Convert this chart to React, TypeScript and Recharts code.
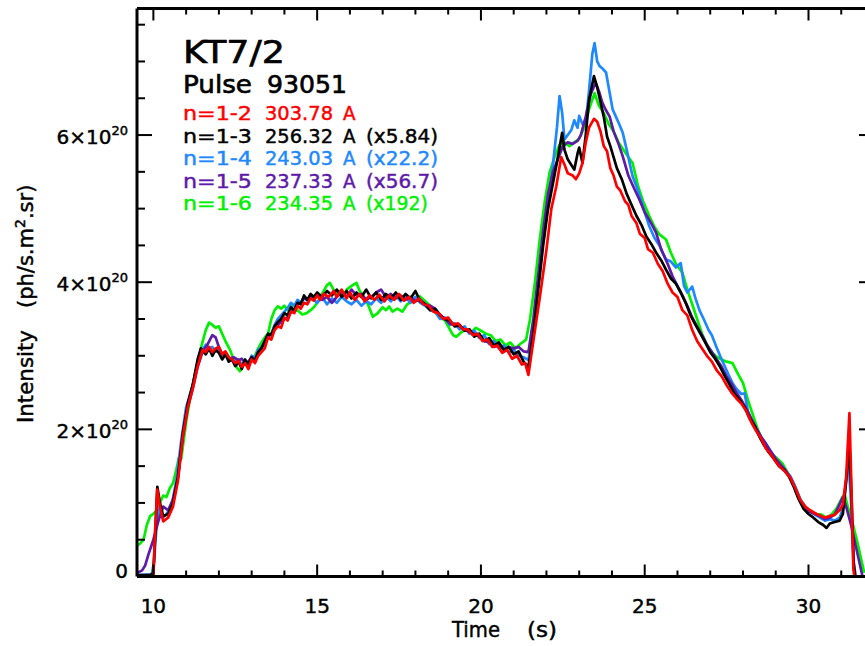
import React from 'react';
import { LineChart, Line, XAxis, YAxis } from 'recharts';

const FONT = '"DejaVu Sans", "Noto Sans", sans-serif';

// Axis setup (intensity in units of 1e20 ph/s.m2.sr, time in s)
const X_DOMAIN: [number, number] = [9.5, 32];
const Y_DOMAIN: [number, number] = [0, 7.72];
const xTicks = [10, 11, 12, 13, 14, 15, 16, 17, 18, 19, 20, 21, 22, 23, 24, 25, 26, 27, 28, 29, 30, 31];
const yTicks = [0, 0.5, 1, 1.5, 2, 2.5, 3, 3.5, 4, 4.5, 5, 5.5, 6, 6.5, 7, 7.5];

// Legend / annotation text
const titleText = 'KT7/2';
const pulseText = ['Pulse', '93051'];
const lineNames = ['n=1-2', 'n=1-3', 'n=1-4', 'n=1-5', 'n=1-6'];
const wavelengths = ['303.78', '256.32', '243.03', '237.33', '234.35'];
const scaleFactors = ['', '(x5.84)', '(x22.2)', '(x56.7)', '(x192)'];
const colors = ['#ff0000', '#000000', '#1e88ff', '#5e1aa8', '#00f000'];

// n=1-2 (red)
const n12: [number, number][] = [
  [9.5, 0], [10.0, 0], [10.05, 0.6], [10.12, 1.18], [10.2, 0.95], [10.3, 0.75], [10.45, 0.8], [10.6, 0.95],
  [10.75, 1.3], [10.9, 1.9], [11.05, 2.3], [11.2, 2.55], [11.35, 2.85], [11.5, 3.08], [11.6, 3.05], [11.7, 3.12],
  [11.8, 3.05], [11.9, 3.1], [12.0, 3.12], [12.1, 3.02], [12.2, 3.06], [12.3, 2.98], [12.4, 2.95], [12.5, 2.9],
  [12.6, 2.93], [12.7, 2.85], [12.8, 2.9], [12.9, 2.82], [13.0, 2.95], [13.1, 2.9], [13.2, 3.0], [13.3, 3.05],
  [13.4, 3.1], [13.5, 3.25], [13.6, 3.22], [13.7, 3.35], [13.8, 3.4], [13.9, 3.38], [14.0, 3.52], [14.1, 3.48],
  [14.2, 3.6], [14.3, 3.58], [14.4, 3.68], [14.5, 3.64], [14.6, 3.72], [14.7, 3.7], [14.8, 3.78], [14.9, 3.75],
  [15.0, 3.82], [15.1, 3.76], [15.2, 3.84], [15.35, 3.8], [15.5, 3.88], [15.6, 3.8], [15.75, 3.9], [15.9, 3.78],
  [16.0, 3.86], [16.15, 3.76], [16.3, 3.84], [16.45, 3.74], [16.6, 3.82], [16.75, 3.76], [16.9, 3.83], [17.05, 3.74],
  [17.2, 3.82], [17.35, 3.76], [17.5, 3.84], [17.65, 3.75], [17.8, 3.8], [17.95, 3.72], [18.1, 3.78], [18.25, 3.7],
  [18.4, 3.68], [18.55, 3.6], [18.7, 3.58], [18.85, 3.5], [19.0, 3.52], [19.15, 3.42], [19.3, 3.44], [19.45, 3.36],
  [19.6, 3.36], [19.75, 3.28], [19.9, 3.3], [20.05, 3.2], [20.2, 3.22], [20.35, 3.12], [20.5, 3.14], [20.65, 3.04],
  [20.8, 3.08], [20.95, 2.96], [21.1, 3.0], [21.25, 2.88], [21.35, 2.9], [21.45, 2.74], [21.6, 3.2], [21.8, 3.8],
  [22.0, 4.44], [22.15, 5.0], [22.3, 5.3], [22.45, 5.7], [22.55, 5.6], [22.65, 5.48], [22.8, 5.45], [22.9, 5.4],
  [23.0, 5.48], [23.1, 5.62], [23.2, 5.9], [23.3, 6.1], [23.45, 6.22], [23.55, 6.18], [23.65, 6.05], [23.75, 5.85],
  [23.85, 5.78], [23.95, 5.55], [24.05, 5.45], [24.15, 5.3], [24.25, 5.25], [24.4, 5.1], [24.5, 5.05], [24.6, 4.9],
  [24.75, 4.8], [24.85, 4.66], [25.0, 4.6], [25.1, 4.45], [25.25, 4.4], [25.4, 4.25], [25.55, 4.15], [25.7, 3.98],
  [25.85, 3.86], [26.0, 3.8], [26.15, 3.62], [26.3, 3.55], [26.45, 3.35], [26.6, 3.2], [26.75, 3.1], [26.9, 3.0],
  [27.05, 2.92], [27.2, 2.8], [27.35, 2.72], [27.5, 2.6], [27.65, 2.5], [27.8, 2.42], [27.95, 2.35], [28.1, 2.25],
  [28.25, 2.1], [28.4, 1.98], [28.55, 1.88], [28.7, 1.74], [28.85, 1.66], [29.0, 1.56], [29.15, 1.48], [29.3, 1.42],
  [29.45, 1.34], [29.6, 1.2], [29.75, 1.04], [29.9, 0.95], [30.05, 0.9], [30.2, 0.86], [30.35, 0.83], [30.5, 0.8],
  [30.65, 0.82], [30.8, 0.84], [30.95, 0.9], [31.05, 0.98], [31.15, 1.35], [31.25, 2.22], [31.3, 1.4], [31.37, 0.1],
  [31.4, 0],
];

// n=1-3 (black, x5.84)
const n13: [number, number][] = [
  [9.5, 0.02], [9.9, 0.02], [10.0, 0.05], [10.05, 0.5], [10.12, 1.22], [10.2, 1.0], [10.3, 0.82], [10.45, 0.85],
  [10.6, 1.0], [10.75, 1.35], [10.9, 1.95], [11.05, 2.35], [11.2, 2.6], [11.35, 2.95], [11.45, 3.1], [11.6, 3.02],
  [11.7, 3.1], [11.8, 3.0], [11.9, 3.08], [12.0, 3.04], [12.1, 2.95], [12.2, 3.02], [12.3, 2.92], [12.4, 2.95],
  [12.5, 2.86], [12.6, 2.92], [12.7, 2.82], [12.8, 2.95], [12.9, 2.88], [13.0, 2.98], [13.1, 2.92], [13.2, 3.05],
  [13.3, 3.1], [13.4, 3.2], [13.5, 3.3], [13.6, 3.28], [13.7, 3.4], [13.8, 3.46], [13.9, 3.5], [14.0, 3.58],
  [14.1, 3.55], [14.2, 3.66], [14.3, 3.62], [14.4, 3.72], [14.5, 3.7], [14.6, 3.82], [14.7, 3.76], [14.8, 3.84],
  [14.9, 3.8], [15.0, 3.86], [15.15, 3.8], [15.3, 3.88], [15.45, 3.82], [15.6, 3.9], [15.75, 3.8], [15.9, 3.88],
  [16.05, 3.78], [16.2, 3.86], [16.35, 3.8], [16.5, 3.9], [16.65, 3.78], [16.8, 3.86], [16.95, 3.76], [17.1, 3.84],
  [17.25, 3.78], [17.4, 3.86], [17.55, 3.76], [17.7, 3.84], [17.85, 3.78], [18.0, 3.88], [18.15, 3.74], [18.3, 3.7],
  [18.45, 3.62], [18.6, 3.64], [18.75, 3.55], [18.9, 3.5], [19.05, 3.48], [19.2, 3.4], [19.35, 3.42], [19.5, 3.34],
  [19.65, 3.36], [19.8, 3.26], [19.95, 3.3], [20.1, 3.2], [20.25, 3.24], [20.4, 3.14], [20.55, 3.18], [20.7, 3.08],
  [20.85, 3.12], [21.0, 3.02], [21.15, 3.06], [21.3, 2.92], [21.45, 2.85], [21.6, 3.3], [21.75, 3.9], [21.9, 4.5],
  [22.05, 5.0], [22.2, 5.35], [22.35, 5.7], [22.48, 6.03], [22.55, 5.8], [22.65, 5.67], [22.75, 5.6], [22.85, 5.53],
  [22.95, 5.75], [23.0, 5.83], [23.1, 5.62], [23.2, 6.0], [23.3, 6.48], [23.45, 6.8], [23.55, 6.65], [23.65, 6.45],
  [23.75, 6.25], [23.85, 5.98], [23.95, 5.85], [24.05, 5.7], [24.15, 5.55], [24.3, 5.4], [24.45, 5.2], [24.6, 5.05],
  [24.75, 4.9], [24.9, 4.78], [25.05, 4.62], [25.2, 4.52], [25.35, 4.4], [25.5, 4.3], [25.65, 4.17], [25.8, 4.05],
  [25.95, 3.98], [26.1, 3.86], [26.25, 3.72], [26.4, 3.55], [26.55, 3.42], [26.7, 3.3], [26.85, 3.18], [27.0, 3.05],
  [27.15, 2.96], [27.3, 2.85], [27.45, 2.72], [27.6, 2.6], [27.75, 2.48], [27.9, 2.4], [28.05, 2.3], [28.2, 2.15],
  [28.35, 2.05], [28.5, 1.9], [28.65, 1.78], [28.8, 1.68], [28.95, 1.6], [29.1, 1.5], [29.25, 1.45], [29.4, 1.36],
  [29.55, 1.22], [29.7, 1.05], [29.85, 0.92], [30.0, 0.85], [30.15, 0.8], [30.3, 0.74], [30.45, 0.7], [30.55, 0.66],
  [30.65, 0.72], [30.8, 0.74], [30.95, 0.76], [31.05, 0.85], [31.15, 1.3], [31.25, 1.8], [31.32, 1.0], [31.38, 0.2],
  [31.42, 0],
];

// n=1-4 (blue, x22.2)
const n14: [number, number][] = [
  [9.5, 0.02], [9.95, 0.03], [10.02, 0.2], [10.1, 0.7], [10.18, 0.95], [10.28, 0.8], [10.4, 0.85], [10.55, 0.95],
  [10.7, 1.3], [10.85, 1.85], [11.0, 2.3], [11.2, 2.6], [11.35, 2.9], [11.5, 3.08], [11.6, 3.15], [11.7, 3.1],
  [11.8, 3.12], [11.9, 3.06], [12.0, 3.1], [12.1, 3.02], [12.2, 3.05], [12.35, 2.95], [12.5, 2.92], [12.6, 2.95],
  [12.7, 2.88], [12.8, 2.92], [12.9, 2.9], [13.0, 3.0], [13.1, 2.96], [13.2, 3.08], [13.3, 3.12], [13.4, 3.2],
  [13.5, 3.28], [13.6, 3.3], [13.7, 3.42], [13.8, 3.5], [13.9, 3.55], [14.0, 3.6], [14.1, 3.65], [14.2, 3.72],
  [14.3, 3.68], [14.4, 3.76], [14.5, 3.72], [14.6, 3.8], [14.7, 3.75], [14.8, 3.8], [15.0, 3.72], [15.15, 3.8],
  [15.3, 3.7], [15.45, 3.78], [15.6, 3.72], [15.75, 3.8], [15.9, 3.74], [16.05, 3.7], [16.2, 3.76], [16.35, 3.68],
  [16.5, 3.74], [16.65, 3.7], [16.8, 3.78], [16.95, 3.72], [17.1, 3.8], [17.25, 3.74], [17.4, 3.82], [17.55, 3.74],
  [17.7, 3.8], [17.85, 3.72], [18.0, 3.8], [18.15, 3.72], [18.3, 3.68], [18.45, 3.62], [18.6, 3.6], [18.75, 3.5],
  [18.9, 3.52], [19.05, 3.42], [19.2, 3.44], [19.35, 3.36], [19.5, 3.4], [19.65, 3.3], [19.8, 3.34], [19.95, 3.24],
  [20.1, 3.28], [20.25, 3.16], [20.4, 3.2], [20.55, 3.1], [20.7, 3.14], [20.85, 3.04], [21.0, 3.08], [21.15, 3.0],
  [21.3, 2.98], [21.45, 2.94], [21.6, 3.4], [21.75, 4.0], [21.9, 4.6], [22.05, 5.1], [22.2, 5.6], [22.32, 6.1],
  [22.4, 6.53], [22.48, 6.3], [22.55, 5.94], [22.65, 6.0], [22.76, 6.07], [22.85, 6.2], [22.95, 6.1], [23.0, 6.26],
  [23.1, 6.15], [23.2, 6.17], [23.3, 6.6], [23.4, 7.1], [23.47, 7.25], [23.55, 7.0], [23.62, 6.94], [23.72, 6.9],
  [23.82, 6.85], [23.92, 6.6], [24.02, 6.35], [24.12, 6.25], [24.22, 6.15], [24.33, 6.03], [24.45, 5.8], [24.55, 5.6],
  [24.63, 5.44], [24.75, 5.3], [24.9, 5.1], [25.0, 4.95], [25.14, 4.76], [25.3, 4.6], [25.45, 4.5], [25.55, 4.4],
  [25.65, 4.31], [25.8, 4.28], [25.95, 4.2], [26.1, 4.26], [26.2, 3.95], [26.3, 3.86], [26.45, 3.94], [26.55, 3.78],
  [26.67, 3.62], [26.8, 3.5], [26.95, 3.35], [27.05, 3.28], [27.18, 3.13], [27.3, 3.0], [27.45, 2.85], [27.55, 2.75],
  [27.68, 2.63], [27.8, 2.55], [27.95, 2.48], [28.05, 2.49], [28.15, 2.25], [28.3, 2.09], [28.45, 1.98], [28.55, 1.9],
  [28.7, 1.81], [28.85, 1.7], [29.0, 1.6], [29.15, 1.52], [29.3, 1.44], [29.45, 1.36], [29.6, 1.22], [29.75, 1.05],
  [29.9, 0.95], [30.05, 0.88], [30.2, 0.84], [30.35, 0.8], [30.5, 0.76], [30.65, 0.78], [30.8, 0.76], [30.95, 0.8],
  [31.05, 0.92], [31.15, 1.3], [31.22, 1.6], [31.3, 1.0], [31.37, 0.2], [31.45, 0],
];

// n=1-5 (purple, x56.7)
const n15: [number, number][] = [
  [9.5, 0.05], [9.65, 0.08], [9.75, 0.15], [9.85, 0.3], [10.0, 0.5], [10.15, 0.75], [10.3, 0.95], [10.45, 0.9],
  [10.6, 1.05], [10.75, 1.35], [10.9, 1.9], [11.05, 2.3], [11.2, 2.55], [11.35, 2.85], [11.5, 3.05], [11.65, 3.15],
  [11.8, 3.28], [11.9, 3.25], [12.0, 3.12], [12.1, 3.02], [12.2, 3.04], [12.3, 2.96], [12.45, 2.98], [12.6, 2.94],
  [12.7, 2.96], [12.8, 2.9], [12.9, 2.92], [13.0, 2.98], [13.1, 2.95], [13.2, 3.05], [13.3, 3.1], [13.4, 3.18],
  [13.5, 3.26], [13.6, 3.3], [13.7, 3.36], [13.8, 3.42], [13.9, 3.46], [14.0, 3.5], [14.1, 3.52], [14.2, 3.6],
  [14.3, 3.62], [14.4, 3.7], [14.5, 3.72], [14.6, 3.78], [14.7, 3.76], [14.8, 3.82], [14.9, 3.78], [15.0, 3.82],
  [15.15, 3.76], [15.3, 3.8], [15.45, 3.72], [15.6, 3.8], [15.75, 3.88], [15.9, 3.8], [16.05, 3.9], [16.2, 3.82],
  [16.35, 3.84], [16.5, 3.76], [16.65, 3.8], [16.8, 3.86], [16.95, 3.9], [17.1, 3.8], [17.25, 3.84], [17.4, 3.78],
  [17.55, 3.82], [17.7, 3.76], [17.85, 3.8], [18.0, 3.74], [18.15, 3.76], [18.3, 3.7], [18.45, 3.68], [18.6, 3.64],
  [18.75, 3.56], [18.9, 3.5], [19.05, 3.44], [19.2, 3.42], [19.35, 3.4], [19.5, 3.36], [19.65, 3.32], [19.8, 3.3],
  [19.95, 3.26], [20.1, 3.2], [20.25, 3.18], [20.4, 3.12], [20.55, 3.15], [20.7, 3.08], [20.85, 3.12], [21.0, 3.1],
  [21.15, 3.12], [21.3, 3.06], [21.45, 3.05], [21.6, 3.5], [21.75, 4.1], [21.9, 4.7], [22.05, 5.2], [22.2, 5.5],
  [22.35, 5.67], [22.5, 5.85], [22.65, 5.9], [22.8, 5.88], [22.95, 5.92], [23.05, 6.0], [23.2, 6.25], [23.35, 6.55],
  [23.5, 6.71], [23.6, 6.6], [23.7, 6.45], [23.8, 6.35], [23.93, 6.25], [24.05, 6.05], [24.2, 5.88], [24.33, 5.71],
  [24.5, 5.45], [24.65, 5.3], [24.84, 5.12], [25.0, 4.95], [25.2, 4.8], [25.35, 4.67], [25.5, 4.45], [25.7, 4.25],
  [25.85, 4.08], [26.0, 3.95], [26.15, 3.82], [26.3, 3.68], [26.45, 3.52], [26.6, 3.4], [26.75, 3.28], [26.9, 3.15],
  [27.05, 3.05], [27.2, 2.95], [27.35, 2.85], [27.5, 2.72], [27.65, 2.62], [27.8, 2.5], [27.95, 2.4], [28.1, 2.28],
  [28.25, 2.15], [28.4, 2.02], [28.55, 1.9], [28.7, 1.8], [28.85, 1.7], [29.0, 1.6], [29.15, 1.52], [29.3, 1.44],
  [29.45, 1.34], [29.6, 1.18], [29.75, 1.02], [29.9, 0.94], [30.05, 0.88], [30.2, 0.85], [30.35, 0.82], [30.5, 0.78],
  [30.65, 0.8], [30.8, 0.84], [30.95, 0.98], [31.05, 1.08], [31.15, 0.95], [31.3, 0.7], [31.45, 0.4], [31.55, 0.2],
  [31.65, 0],
];

// n=1-6 (green, x192)
const n16: [number, number][] = [
  [9.5, 0.42], [9.6, 0.45], [9.7, 0.5], [9.8, 0.7], [9.9, 0.82], [10.0, 0.85], [10.1, 0.9], [10.2, 1.0],
  [10.3, 1.1], [10.4, 1.08], [10.5, 1.2], [10.6, 1.27], [10.7, 1.45], [10.78, 1.62], [10.85, 1.6], [11.0, 2.1],
  [11.15, 2.5], [11.3, 2.8], [11.45, 3.1], [11.6, 3.35], [11.7, 3.45], [11.8, 3.42], [11.9, 3.38], [12.0, 3.4],
  [12.1, 3.3], [12.2, 3.2], [12.34, 3.08], [12.45, 2.95], [12.55, 2.84], [12.64, 2.79], [12.75, 2.9], [12.85, 2.88],
  [13.0, 2.96], [13.1, 3.0], [13.2, 3.1], [13.3, 3.18], [13.4, 3.25], [13.5, 3.3], [13.6, 3.5], [13.7, 3.62],
  [13.8, 3.67], [13.9, 3.64], [14.0, 3.68], [14.1, 3.62], [14.2, 3.68], [14.3, 3.6], [14.4, 3.62], [14.55, 3.56],
  [14.68, 3.58], [14.8, 3.62], [14.9, 3.66], [15.0, 3.72], [15.1, 3.8], [15.2, 3.88], [15.3, 3.96], [15.39, 3.99],
  [15.5, 3.9], [15.6, 3.85], [15.7, 3.88], [15.8, 3.82], [15.9, 3.9], [16.05, 3.95], [16.2, 3.99], [16.3, 3.88],
  [16.4, 3.82], [16.55, 3.7], [16.7, 3.53], [16.85, 3.58], [17.0, 3.66], [17.1, 3.62], [17.2, 3.67], [17.3, 3.6],
  [17.45, 3.64], [17.6, 3.6], [17.75, 3.7], [17.9, 3.74], [18.05, 3.78], [18.13, 3.81], [18.3, 3.74], [18.45, 3.68],
  [18.6, 3.6], [18.75, 3.52], [18.9, 3.48], [19.05, 3.36], [19.15, 3.28], [19.25, 3.26], [19.4, 3.32], [19.55, 3.36],
  [19.7, 3.32], [19.85, 3.38], [20.0, 3.34], [20.15, 3.3], [20.3, 3.28], [20.45, 3.2], [20.6, 3.22], [20.75, 3.14],
  [20.9, 3.18], [21.05, 3.1], [21.2, 3.16], [21.38, 3.22], [21.5, 3.5], [21.65, 4.0], [21.8, 4.6], [21.95, 5.1],
  [22.1, 5.5], [22.25, 5.7], [22.4, 5.87], [22.55, 5.9], [22.7, 5.85], [22.85, 5.9], [23.0, 5.95], [23.15, 6.1],
  [23.3, 6.35], [23.47, 6.57], [23.6, 6.4], [23.75, 6.3], [23.9, 6.15], [24.05, 6.05], [24.2, 5.9], [24.35, 5.8],
  [24.5, 5.7], [24.63, 5.62], [24.8, 5.3], [24.95, 5.1], [25.14, 4.9], [25.3, 4.75], [25.45, 4.65], [25.65, 4.58],
  [25.8, 4.4], [25.95, 4.25], [26.15, 4.13], [26.3, 3.9], [26.45, 3.7], [26.6, 3.5], [26.75, 3.3], [26.9, 3.15],
  [27.05, 3.05], [27.18, 2.99], [27.35, 2.95], [27.5, 2.92], [27.68, 2.9], [27.85, 2.75], [28.0, 2.63], [28.15, 2.4],
  [28.3, 2.2], [28.45, 2.0], [28.6, 1.85], [28.75, 1.72], [28.9, 1.66], [29.05, 1.6], [29.2, 1.54], [29.35, 1.42],
  [29.5, 1.3], [29.65, 1.15], [29.8, 1.0], [29.95, 0.92], [30.1, 0.88], [30.25, 0.85], [30.4, 0.84], [30.55, 0.8],
  [30.7, 0.84], [30.85, 0.92], [31.0, 1.05], [31.1, 1.12], [31.2, 0.95], [31.35, 0.72], [31.5, 0.45], [31.6, 0.25],
  [31.7, 0.05],
];

const toRows = (pts: [number, number][]) => pts.map(([t, v]) => ({ t, v }));

// drawn bottom to top (red on top)
const seriesOrder = [
  { key: 'n16', pts: n16, color: colors[4] },
  { key: 'n14', pts: n14, color: colors[2] },
  { key: 'n15', pts: n15, color: colors[3] },
  { key: 'n13', pts: n13, color: colors[1] },
  { key: 'n12', pts: n12, color: colors[0] },
];

const TXT_STROKE = 0.45;

const BottomTick = (props: any) => {
  const { x, y, payload } = props;
  const v = payload.value;
  const major = v % 5 === 0;
  return (
    <g>
      <line x1={x} x2={x} y1={y} y2={y - (major ? 12 : 6)} stroke="#000" strokeWidth={2} />
      {major && (
        <text x={x} y={y + 36} textAnchor="middle" fontFamily={FONT} fontSize={20} fill="#000" stroke="#000" strokeWidth={TXT_STROKE}>
          {v}
        </text>
      )}
    </g>
  );
};

const TopTick = (props: any) => {
  const { x, y, payload } = props;
  const major = payload.value % 5 === 0;
  return <line x1={x} x2={x} y1={y} y2={y + (major ? 12 : 6)} stroke="#000" strokeWidth={2} />;
};

const LeftTick = (props: any) => {
  const { x, y, payload } = props;
  const v = payload.value;
  const major = v % 2 === 0;
  return (
    <g>
      <line x1={x} x2={x + (major ? 15 : 8)} y1={y} y2={y} stroke="#000" strokeWidth={2} />
      {major &&
        (v === 0 ? (
          <text x={x - 9} y={y + 1.5} textAnchor="end" fontFamily={FONT} fontSize={20} fill="#000" stroke="#000" strokeWidth={TXT_STROKE}>
            0
          </text>
        ) : (
          <text x={x - 9} y={y + 8.5} textAnchor="end" fontFamily={FONT} fontSize={20} fill="#000" stroke="#000" strokeWidth={TXT_STROKE}>
            {`${v}×10`}
            <tspan dy={-9} fontSize={13}>
              20
            </tspan>
          </text>
        ))}
    </g>
  );
};

const RightTick = (props: any) => {
  const { x, y, payload } = props;
  const major = payload.value % 2 === 0;
  return <line x1={x} x2={x - (major ? 15 : 8)} y1={y} y2={y} stroke="#000" strokeWidth={2} />;
};

const Annotations = () => (
  <svg width={865} height={646} style={{ position: 'absolute', left: 0, top: 0, pointerEvents: 'none' }}>
    <g stroke="#000" strokeWidth={TXT_STROKE + 0.2} fill="#000" fontFamily={FONT}>
      <text x={183} y={63} fontSize={32} textLength={102} lengthAdjust="spacingAndGlyphs">
        {titleText}
      </text>
      <text x={183} y={93} fontSize={25} textLength={69} lengthAdjust="spacingAndGlyphs">
        {pulseText[0]}
      </text>
      <text x={267} y={93} fontSize={25} textLength={80} lengthAdjust="spacingAndGlyphs">
        {pulseText[1]}
      </text>
    </g>
    {lineNames.map((nm, i) => {
      const by = 120 + i * 22.6;
      const c = colors[i];
      return (
        <g key={nm} fill={c} stroke={c} strokeWidth={TXT_STROKE} fontFamily={FONT} fontSize={19}>
          <text x={183} y={by} textLength={69} lengthAdjust="spacingAndGlyphs">{nm}</text>
          <text x={265} y={by} textLength={68} lengthAdjust="spacingAndGlyphs">{wavelengths[i]}</text>
          <text x={343} y={by} textLength={12.5} lengthAdjust="spacingAndGlyphs">A</text>
          {scaleFactors[i] && (
            <text x={366} y={by} textLength={scaleFactors[i].length === 7 ? 72 : 62} lengthAdjust="spacingAndGlyphs">
              {scaleFactors[i]}
            </text>
          )}
        </g>
      );
    })}
    {/* axis titles */}
    <g fill="#000" stroke="#000" strokeWidth={TXT_STROKE} fontFamily={FONT}>
      <text x={33} y={423} transform="rotate(-90 33 423)" fontSize={21} textLength={93} lengthAdjust="spacingAndGlyphs">
        Intensity
      </text>
      <text x={33} y={308} transform="rotate(-90 33 308)" fontSize={21}>
        (ph/s.m<tspan dy={-8} fontSize={14}>2</tspan>
        <tspan dy={8}>.sr)</tspan>
      </text>
      <text x={452} y={637} fontSize={21} textLength={48} lengthAdjust="spacingAndGlyphs">
        Time
      </text>
      <text x={527} y={637} fontSize={21} textLength={30} lengthAdjust="spacingAndGlyphs">
        (s)
      </text>
    </g>
  </svg>
);

export default function App() {
  return (
    <div style={{ position: 'absolute', left: 0, top: 0, width: 865, height: 646, overflow: 'hidden', background: '#fff' }}>
      <LineChart width={880} height={646} margin={{ top: 7.5, right: 5, bottom: 0, left: 0 }}>
        <XAxis
          xAxisId={0}
          dataKey="t"
          type="number"
          domain={X_DOMAIN}
          allowDataOverflow
          ticks={xTicks}
          interval={0}
          height={69.5}
          tickSize={0}
          tickMargin={0}
          tick={<BottomTick />}
          axisLine={{ stroke: '#000', strokeWidth: 3 }}
          tickLine={false}
        />
        <XAxis
          xAxisId="top"
          orientation="top"
          dataKey="t"
          type="number"
          domain={X_DOMAIN}
          allowDataOverflow
          ticks={xTicks}
          interval={0}
          height={1}
          tickSize={0}
          tickMargin={0}
          tick={<TopTick />}
          axisLine={{ stroke: '#000', strokeWidth: 3 }}
          tickLine={false}
        />
        <YAxis
          yAxisId={0}
          type="number"
          domain={Y_DOMAIN}
          allowDataOverflow
          ticks={yTicks}
          interval={0}
          width={137}
          tickSize={0}
          tickMargin={0}
          tick={<LeftTick />}
          axisLine={{ stroke: '#000', strokeWidth: 3 }}
          tickLine={false}
        />
        <YAxis
          yAxisId="right"
          orientation="right"
          type="number"
          domain={Y_DOMAIN}
          allowDataOverflow
          ticks={yTicks}
          interval={0}
          width={1}
          tickSize={0}
          tickMargin={0}
          tick={<RightTick />}
          axisLine={{ stroke: '#000', strokeWidth: 3 }}
          tickLine={false}
        />
        {seriesOrder.map((s) => (
          <Line
            key={s.key}
            data={toRows(s.pts)}
            dataKey="v"
            xAxisId={0}
            yAxisId={0}
            type="linear"
            stroke={s.color}
            strokeWidth={2.7}
            dot={false}
            activeDot={false}
            isAnimationActive={false}
            strokeLinejoin="round"
          />
        ))}
      </LineChart>
      <Annotations />
    </div>
  );
}
